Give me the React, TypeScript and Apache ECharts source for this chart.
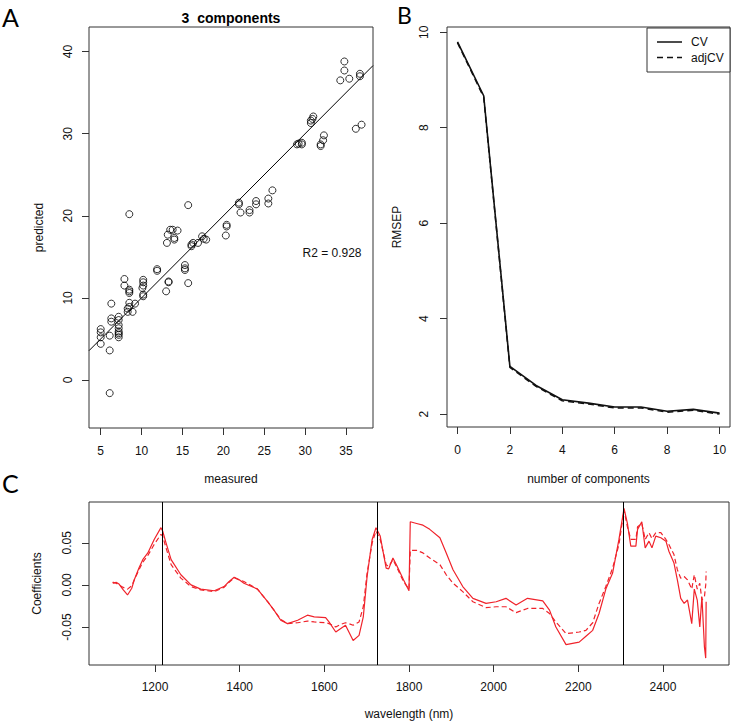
import React, { useEffect, useRef } from "react";
import * as echarts from "echarts";

// Panel A: measured vs predicted
const measured = [8.5, 15.7, 21.9, 21.9, 22.1, 23.2, 23.2, 24.0, 24.0, 25.5, 25.5, 26.0, 29.0, 29.2, 29.6, 29.6, 30.7, 30.9, 31.0, 30.7, 31.9, 31.9, 32.2, 32.3, 34.3, 34.8, 34.8, 35.4, 36.2, 36.9, 36.7, 36.7, 20.4, 20.4, 20.3, 13.2, 13.5, 13.8, 14.4, 14.0, 14.0, 13.1, 16.1, 16.1, 16.3, 16.9, 17.4, 17.6, 17.9, 15.3, 15.3, 15.3, 15.7, 11.9, 11.9, 13.3, 13.3, 13.0, 10.2, 10.2, 10.2, 10.1, 10.2, 10.2, 8.5, 8.5, 8.5, 7.9, 7.9, 8.5, 8.5, 8.3, 8.3, 8.9, 9.2, 6.3, 6.3, 6.3, 7.2, 7.2, 7.2, 7.2, 7.2, 7.2, 7.2, 7.2, 5.0, 5.0, 5.0, 5.0, 6.1, 6.1, 6.1];
const predicted = [20.2, 21.3, 21.6, 21.4, 20.4, 20.7, 20.4, 21.8, 21.4, 22.1, 21.5, 23.1, 28.7, 28.8, 28.9, 28.7, 31.3, 31.8, 32.1, 31.6, 28.5, 28.7, 29.2, 29.8, 36.5, 38.8, 37.7, 36.7, 30.6, 31.1, 37.3, 37.0, 18.7, 18.9, 17.6, 17.7, 18.3, 18.3, 18.2, 17.3, 17.1, 16.7, 16.3, 16.5, 16.7, 16.7, 17.5, 17.2, 17.1, 14.0, 13.6, 13.4, 11.8, 13.5, 13.3, 12.0, 11.9, 10.8, 12.2, 11.9, 11.5, 11.2, 10.4, 10.2, 11.0, 10.8, 10.6, 12.3, 11.5, 9.4, 8.9, 8.7, 8.3, 8.3, 9.3, 9.3, 7.5, 7.1, 7.7, 7.3, 6.7, 6.3, 5.9, 5.7, 5.5, 5.2, 6.2, 5.8, 5.2, 4.4, 5.4, 3.6, -1.6];
const targetLine = [3.57, 38.3];
const xTicksA = [5, 10, 15, 20, 25, 30, 35];
const yTicksA = [0, 10, 20, 30, 40];

// Panel B: RMSEP
const components = [0, 1, 2, 3, 4, 5, 6, 7, 8, 9, 10];
const rmsepCV = [9.8, 8.67, 3.0, 2.6, 2.3, 2.23, 2.15, 2.15, 2.06, 2.1, 2.02];
const rmsepAdjCV = [9.78, 8.64, 2.98, 2.58, 2.28, 2.21, 2.13, 2.13, 2.04, 2.08, 2.0];
const xTicksB = [0, 2, 4, 6, 8, 10];
const yTicksB = [2, 4, 6, 8, 10];
const legendNames = ["CV", "adjCV"];

// Panel C: regression coefficients
const wavelength = [1100, 1102, 1108, 1115, 1125, 1135, 1145, 1151, 1162, 1171, 1183, 1198, 1214, 1218, 1226, 1238, 1261, 1285, 1308, 1340, 1363, 1375, 1387, 1399, 1410, 1442, 1466, 1481, 1497, 1513, 1537, 1560, 1576, 1603, 1611, 1627, 1638, 1650, 1658, 1668, 1682, 1692, 1701, 1713, 1722, 1732, 1746, 1752, 1762, 1772, 1787, 1800, 1803, 1818, 1833, 1849, 1873, 1888, 1904, 1927, 1951, 1982, 2006, 2029, 2053, 2080, 2116, 2132, 2147, 2171, 2202, 2218, 2234, 2249, 2265, 2281, 2296, 2308, 2316, 2324, 2336, 2340, 2350, 2358, 2367, 2374, 2383, 2395, 2407, 2414, 2426, 2434, 2442, 2450, 2458, 2468, 2474, 2481, 2487, 2492, 2498, 2501, 2502];
const coefSolid = [0.003, 0.002, 0.003, 0.001, -0.006, -0.012, -0.004, 0.006, 0.02, 0.03, 0.038, 0.054, 0.068, 0.064, 0.05, 0.03, 0.012, 0.0, -0.005, -0.007, -0.002, 0.004, 0.009, 0.006, 0.002, -0.005, -0.02, -0.03, -0.042, -0.046, -0.042, -0.036, -0.038, -0.039, -0.044, -0.056, -0.052, -0.048, -0.056, -0.066, -0.06, -0.038, 0.01, 0.054, 0.068, 0.058, 0.02, 0.019, 0.032, 0.022, 0.006, -0.007, 0.075, 0.073, 0.071, 0.066, 0.056, 0.038, 0.018, -0.002, -0.016, -0.022, -0.02, -0.016, -0.024, -0.016, -0.019, -0.03, -0.05, -0.071, -0.068, -0.061, -0.054, -0.034, -0.005, 0.014, 0.054, 0.091, 0.073, 0.046, 0.046, 0.066, 0.075, 0.044, 0.052, 0.044, 0.058, 0.056, 0.052, 0.04, 0.026, 0.006, -0.016, -0.022, -0.018, -0.046, -0.005, -0.018, -0.05, -0.014, -0.074, -0.087, -0.02];
const coefDashed = [0.003, 0.003, 0.002, 0.0, -0.003, -0.005, -0.001, 0.006, 0.018, 0.027, 0.035, 0.048, 0.06, 0.058, 0.044, 0.024, 0.008, -0.002, -0.006, -0.008, -0.003, 0.003, 0.0085, 0.006, 0.004, -0.005, -0.02, -0.03, -0.041, -0.046, -0.045, -0.043, -0.044, -0.045, -0.046, -0.05, -0.047, -0.045, -0.046, -0.048, -0.044, -0.026, 0.014, 0.05, 0.064, 0.054, 0.024, 0.022, 0.03, 0.02, 0.004, -0.005, 0.041, 0.041, 0.038, 0.032, 0.024, 0.012, 0.002, -0.008, -0.02, -0.027, -0.026, -0.026, -0.033, -0.028, -0.028, -0.034, -0.044, -0.058, -0.056, -0.054, -0.045, -0.022, -0.002, 0.02, 0.048, 0.089, 0.069, 0.054, 0.054, 0.069, 0.073, 0.054, 0.062, 0.055, 0.062, 0.062, 0.054, 0.048, 0.036, 0.018, 0.008, 0.01, 0.006, -0.005, 0.012, -0.005, 0.002, -0.018, -0.014, 0.0, 0.016];
const selectedBands = [1217, 1726, 2306];
const xTicksC = [1200, 1400, 1600, 1800, 2000, 2200, 2400];
const yTicksC = [-0.05, 0, 0.05];

const FONT = "Liberation Sans";
const INK = "#333";
const RED = "#f0232b";

const GRIDS = [
  { left: 89, top: 27, width: 284, height: 401 },
  { left: 447, top: 27, width: 283, height: 400 },
  { left: 89, top: 502, width: 640, height: 163 },
];

function axisCommon(ticks: number[], showLabel: boolean, margin: number) {
  return {
    type: "value" as const,
    axisLine: { show: false, onZero: false },
    splitLine: { show: false },
    axisTick: { show: true, inside: false, length: 7, customValues: ticks, lineStyle: { color: INK, width: 1 } },
    axisLabel: {
      show: showLabel,
      customValues: ticks,
      margin,
      color: "#111",
      fontSize: 12,
      fontFamily: FONT,
      formatter: (v: number) => String(v),
    },
    nameTextStyle: { color: "#111", fontSize: 12, fontFamily: FONT },
    nameLocation: "middle" as const,
  };
}

export default function App() {
  const ref = useRef<HTMLDivElement>(null);
  useEffect(() => {
    if (!ref.current) return;
    const chart = echarts.init(ref.current, null, { renderer: "svg" });
    const gridStyle = { show: true, borderColor: INK, borderWidth: 1, backgroundColor: "transparent" };
    const option: any = {
      animation: false,
      textStyle: { fontFamily: FONT },
      grid: GRIDS.map((g) => ({ ...g, ...gridStyle })),
      xAxis: [
        { ...axisCommon(xTicksA, true, 17), gridIndex: 0, min: 3.57, max: 38.3, name: "measured", nameGap: 45 },
        { ...axisCommon(xTicksB, true, 17), gridIndex: 1, min: -0.4, max: 10.4, name: "number of components", nameGap: 46 },
        { ...axisCommon(xTicksC, true, 16), gridIndex: 2, min: 1044, max: 2556, name: "wavelength (nm)", nameGap: 43 },
      ],
      yAxis: [
        { ...axisCommon(yTicksA, false, 14), gridIndex: 0, min: -5.85, max: 43, name: "predicted", nameGap: 44 },
        { ...axisCommon(yTicksB, false, 14), gridIndex: 1, min: 1.73, max: 10.11, name: "RMSEP", nameGap: 44 },
        { ...axisCommon(yTicksC, false, 14), gridIndex: 2, min: -0.0952, max: 0.0985, name: "Coefficients", nameGap: 46 },
      ],
      series: [
        {
          type: "scatter",
          xAxisIndex: 0,
          yAxisIndex: 0,
          data: measured.map((m, i) => [m, predicted[i]]),
          symbol: "circle",
          symbolSize: 7,
          itemStyle: { color: "rgba(0,0,0,0)", borderColor: "#000", borderWidth: 1 },
          silent: true,
        },
        {
          type: "line",
          xAxisIndex: 0,
          yAxisIndex: 0,
          data: targetLine.map((v) => [v, v]),
          symbol: "none",
          lineStyle: { color: "#000", width: 1 },
          silent: true,
        },
        {
          type: "line",
          name: "adjCV",
          xAxisIndex: 1,
          yAxisIndex: 1,
          data: components.map((c, i) => [c, rmsepAdjCV[i]]),
          symbol: "none",
          lineStyle: { color: "#111", width: 1.5, type: [6, 4] },
          silent: true,
        },
        {
          type: "line",
          name: "CV",
          xAxisIndex: 1,
          yAxisIndex: 1,
          data: components.map((c, i) => [c, rmsepCV[i]]),
          symbol: "none",
          lineStyle: { color: "#111", width: 1.6 },
          silent: true,
        },
        {
          type: "line",
          xAxisIndex: 2,
          yAxisIndex: 2,
          data: wavelength.map((w, i) => [w, coefDashed[i]]),
          symbol: "none",
          lineStyle: { color: RED, width: 1.2, type: [5, 3] },
          silent: true,
        },
        {
          type: "line",
          xAxisIndex: 2,
          yAxisIndex: 2,
          data: wavelength.map((w, i) => [w, coefSolid[i]]),
          symbol: "none",
          lineStyle: { color: RED, width: 1.2 },
          silent: true,
          markLine: {
            silent: true,
            symbol: ["none", "none"],
            label: { show: false },
            lineStyle: { color: "#000", width: 1, type: "solid" },
            data: selectedBands.map((b) => ({ xAxis: b })),
          },
        },
      ],
    };
    chart.setOption(option);

    // rotated y tick labels, placed through the axes' own scales
    const yTickSets = [
      { ticks: yTicksA, fmt: (v: number) => String(v), off: 21 },
      { ticks: yTicksB, fmt: (v: number) => String(v), off: 23 },
      { ticks: yTicksC, fmt: (v: number) => v.toFixed(2), off: 22 },
    ];
    const graphics: any[] = [];
    yTickSets.forEach((set, gi) => {
      set.ticks.forEach((v) => {
        const py = chart.convertToPixel({ yAxisIndex: gi } as any, v) as number;
        graphics.push({
          type: "text",
          x: GRIDS[gi].left - set.off,
          y: py,
          rotation: Math.PI / 2,
          style: { text: set.fmt(v), fontSize: 12, fontFamily: FONT, fill: "#111", align: "center", verticalAlign: "middle" },
          silent: true,
        });
      });
    });
    // legend of panel B
    const lgX = 647, lgY = 28, lgW = 83, lgH = 44;
    graphics.push({ type: "rect", shape: { x: lgX, y: lgY, width: lgW, height: lgH }, style: { fill: "#fff", stroke: INK, lineWidth: 1 }, silent: true });
    legendNames.forEach((n, i) => {
      const yy = lgY + 14 + i * 15.5;
      graphics.push({ type: "line", shape: { x1: lgX + 10, y1: yy, x2: lgX + 35, y2: yy }, style: { stroke: "#111", lineWidth: 1.5, lineDash: i === 0 ? null : [6, 4] }, silent: true });
      graphics.push({ type: "text", x: lgX + 44, y: yy, style: { text: n, fontSize: 12, fontFamily: FONT, fill: "#111", align: "left", verticalAlign: "middle" }, silent: true });
    });
    graphics.push(
      { type: "text", left: 2, top: 4, style: { text: "A", fontSize: 25, fontFamily: "Lato", fill: "#000" } },
      { type: "text", left: 397, top: 3, style: { text: "B", fontSize: 23, fontFamily: "Lato", fill: "#000" } },
      { type: "text", left: 2, top: 470, style: { text: "C", fontSize: 25, fontFamily: "Lato", fill: "#000" } },
      { type: "text", x: 231, y: 18, style: { text: "3  components", fontSize: 14, fontWeight: "bold", fontFamily: FONT, fill: "#000", align: "center", verticalAlign: "middle" } },
      { type: "text", x: 332, y: 253, style: { text: "R2 = 0.928", fontSize: 12, fontFamily: FONT, fill: "#111", align: "center", verticalAlign: "middle" } }
    );
    chart.setOption({ graphic: graphics });
    return () => chart.dispose();
  }, []);
  return <div ref={ref} style={{ position: "fixed", left: 0, top: 0, width: 733, height: 726, background: "#fff" }} />;
}
